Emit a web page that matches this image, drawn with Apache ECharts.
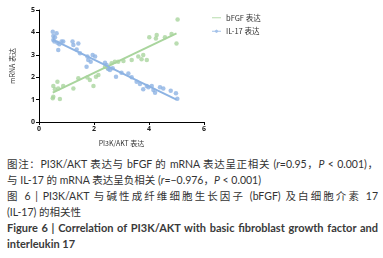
<!DOCTYPE html>
<html>
<head>
<meta charset="utf-8">
<script src="https://cdn.jsdelivr.net/npm/echarts@6/dist/echarts.min.js"></script>
<style>
  html, body { margin: 0; padding: 0; background: #fff; }
  #wrap { position: relative; width: 383px; height: 258px; overflow: hidden; }
  #main { position: absolute; left: 0; top: 0; width: 383px; height: 152px; }
  .cap { position: absolute; left: 7px; width: 371px; font-family: "Lato", "Noto Sans CJK SC", sans-serif;
         font-size: 10.5px; line-height: 16px; color: #333; white-space: nowrap; }
  .cap.zh { font-family: "Lato", "Noto Sans CJK SC", sans-serif; }
  .just { text-align: justify; text-align-last: justify; }
  .en { font-family: "Lato", sans-serif; font-weight: bold; font-size: 11px; color: #3a3a3a; }
</style>
</head>
<body>
<div id="wrap">
  <div id="main"></div>
  <div class="cap just" style="top:156px">图注：PI3K/AKT 表达与 bFGF 的 mRNA 表达呈正相关 (<i>r</i>=0.95，<i>P</i> &lt; 0.001)，</div>
  <div class="cap" style="top:172px">与 IL-17 的 mRNA 表达呈负相关 (<i>r</i>=−0.976，<i>P</i> &lt; 0.001)</div>
  <div class="cap just" style="top:188px">图 6 | PI3K/AKT 与碱性成纤维细胞生长因子 (bFGF) 及白细胞介素 17</div>
  <div class="cap" style="top:204px">(IL-17) 的相关性</div>
  <div class="cap en just" style="top:220px">Figure 6 | Correlation of PI3K/AKT with basic fibroblast growth factor and</div>
  <div class="cap en" style="top:236px">interleukin 17</div>
</div>
<script>
var chart = echarts.init(document.getElementById('main'));

// bFGF 表达 (green)
var bfgfX = [0.5, 0.52, 0.52, 0.58, 0.67, 0.7, 0.76, 0.88, 1.25, 1.43, 1.76, 1.85, 1.98, 2.07, 2.16, 2.4, 2.5, 2.64, 2.76, 2.88, 3.07, 3.37, 3.61, 3.73, 3.79, 3.92, 4.01, 4.25, 4.28, 4.58, 4.82, 5.0, 5.04];
var bfgfY = [1.06, 1.13, 1.61, 1.46, 1.8, 1.5, 1.03, 1.61, 1.5, 1.95, 1.99, 1.87, 1.61, 2.02, 2.1, 2.47, 2.4, 2.62, 2.69, 2.69, 2.72, 2.77, 2.92, 2.8, 2.99, 2.77, 3.78, 3.73, 3.88, 3.78, 3.93, 3.51, 4.58];

// IL-17 表达 (blue)
var il17X = [0.5, 0.52, 0.58, 0.64, 0.52, 0.56, 0.67, 0.74, 0.7, 0.82, 0.88, 1.22, 1.25, 1.43, 1.37, 1.49, 1.76, 1.79, 1.88, 1.95, 2.04, 1.73, 2.4, 2.46, 2.52, 2.58, 2.68, 2.8, 3.0, 3.25, 3.37, 3.55, 3.67, 3.79, 3.92, 3.98, 4.1, 4.16, 4.22, 4.4, 4.52, 4.79, 4.98, 5.03];
var il17Y = [4.03, 3.84, 3.78, 3.96, 3.66, 3.59, 3.54, 3.47, 3.21, 3.59, 3.59, 3.59, 3.44, 3.51, 3.24, 3.07, 2.92, 2.77, 2.69, 2.99, 2.92, 2.47, 2.65, 2.54, 2.37, 2.32, 2.4, 2.02, 2.2, 2.17, 2.0, 1.8, 1.7, 1.46, 1.61, 1.55, 1.61, 1.43, 1.31, 1.55, 1.5, 1.4, 1.28, 1.04];

// fitted lines (end points)
var fitX = [0.5, 5.0];
var bfgfFit = [1.31, 3.96];
var il17Fit = [3.68, 1.0];

var green = '#a9d59d';
var blue = '#8db3e3';

function pairs(xs, ys) {
    return xs.map(function (x, i) { return [x, ys[i]]; });
}

var axisText = { fontSize: 7, color: '#222', fontWeight: 'bold', fontFamily: 'Open Sans' };

chart.setOption({
    animation: false,
    grid: { left: 39, right: 179, top: 10, bottom: 30, containLabel: false },
    legend: {
        left: 207, top: 9, orient: 'vertical', itemGap: 6,
        itemWidth: 9, itemHeight: 6,
        textStyle: { fontSize: 7.5, color: '#333', fontFamily: 'Noto Sans CJK SC' },
        data: [
            { name: 'bFGF 表达', icon: 'path://M0,4.4H10V5.6H0Z' },
            { name: 'IL-17 表达', icon: 'path://M0,4.4H3L5,3L7,4.4H10V5.6H7L5,7L3,5.6H0Z' }
        ]
    },
    xAxis: {
        type: 'value', min: 0, max: 6, interval: 2,
        name: 'PI3K/AKT 表达', nameLocation: 'middle', nameGap: 18,
        nameTextStyle: { fontSize: 7, color: '#333', fontFamily: 'Noto Sans CJK SC' },
        axisLine: { lineStyle: { color: '#000', width: 1 } },
        axisTick: { length: 3, lineStyle: { color: '#000' } },
        axisLabel: Object.assign({ margin: 3 }, axisText),
        splitLine: { show: false }
    },
    yAxis: {
        type: 'value', min: 0, max: 5, interval: 1,
        name: 'mRNA 表达', nameLocation: 'middle', nameGap: 23, nameRotate: 90,
        nameTextStyle: { fontSize: 7, color: '#333', fontFamily: 'Noto Sans CJK SC' },
        axisLine: { show: true, lineStyle: { color: '#000', width: 1 } },
        axisTick: { show: true, length: 3, lineStyle: { color: '#000' } },
        axisLabel: Object.assign({ margin: 4 }, axisText),
        splitLine: { show: false }
    },
    series: [
        {
            name: 'bFGF 表达', type: 'scatter', symbolSize: 4.5,
            itemStyle: { color: green }, data: pairs(bfgfX, bfgfY)
        },
        {
            name: 'IL-17 表达', type: 'scatter', symbolSize: 4.5,
            itemStyle: { color: blue }, data: pairs(il17X, il17Y)
        },
        {
            name: 'bFGF 表达', type: 'line', symbol: 'none',
            lineStyle: { color: green, width: 2 }, itemStyle: { color: green },
            data: pairs(fitX, bfgfFit)
        },
        {
            name: 'IL-17 表达', type: 'line', symbol: 'none',
            lineStyle: { color: blue, width: 2 }, itemStyle: { color: blue },
            data: pairs(fitX, il17Fit)
        }
    ]
});
</script>
</body>
</html>
